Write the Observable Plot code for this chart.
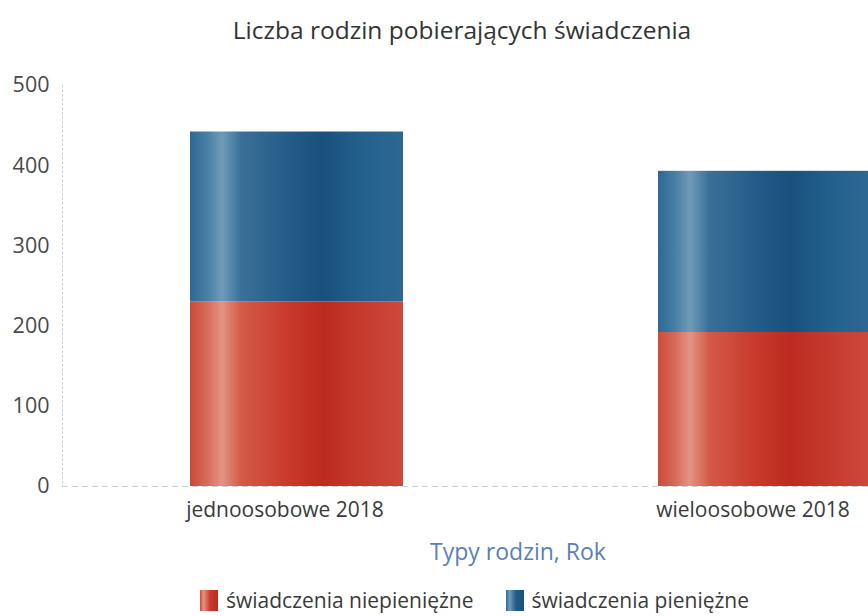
<!DOCTYPE html>
<html>
<head>
<meta charset="utf-8">
<script src="https://cdn.jsdelivr.net/npm/d3@7"></script>
<script src="https://cdn.jsdelivr.net/npm/@observablehq/plot@0.6"></script>
<style>
  html, body { margin: 0; padding: 0; background: #fff; overflow: hidden; width: 868px; height: 616px; }
  body { position: relative; font-family: "Open Sans", sans-serif; }
  #title { position: absolute; top: 13px; left: 0; width: 924px; text-align: center; font-size: 24.5px; color: #333; line-height: 34px; }
  #chart { position: absolute; top: 60px; left: 0; width: 1000px; }
  #chart svg { max-width: none !important; }
  #xlabel { position: absolute; top: 535px; left: 0; width: 1036px; text-align: center; font-size: 23px; line-height: 32px; color: #5b7fb4; }
  #legend { position: absolute; top: 586px; left: 200px; font-size: 21px; line-height: 28px; color: #3a3a3a; display: flex; align-items: center; white-space: nowrap; }
  .sw { display: inline-block; width: 18px; height: 21px; margin-right: 8px; }
  .item { display: flex; align-items: center; margin-right: 32px; }
</style>
</head>
<body>
<div id="title"></div>
<div id="chart"></div>
<div id="xlabel"></div>
<div id="legend"></div>
<script>
const titleText = "Liczba rodzin pobierających świadczenia";
const xAxisLabel = "Typy rodzin, Rok";
const categories = ["jednoosobowe 2018", "wieloosobowe 2018"];
const seriesNames = ["świadczenia niepieniężne", "świadczenia pieniężne"];
const nonCash = [230, 192];
const cash = [212, 201];
const yTicks = [0, 100, 200, 300, 400, 500];
const gradIds = ["gradRed", "gradBlue"];

document.getElementById("title").textContent = titleText;
document.getElementById("xlabel").textContent = xAxisLabel;

const data = [];
categories.forEach((c, i) => {
  data.push({cat: c, series: seriesNames[0], value: nonCash[i]});
  data.push({cat: c, series: seriesNames[1], value: cash[i]});
});

const fillFor = s => `url(#${gradIds[seriesNames.indexOf(s)]})`;

const plot = Plot.plot({
  width: 1000,
  height: 470,
  marginLeft: 62,
  marginRight: 1,
  marginTop: 25,
  marginBottom: 44,
  style: {fontFamily: "Open Sans, sans-serif", fontSize: "21px", color: "#555", background: "transparent", maxWidth: "none"},
  x: {domain: categories, paddingInner: 0.545, paddingOuter: 0.2735, label: null},
  y: {domain: [0, 500], ticks: yTicks, label: null},
  marks: [
    Plot.frame({anchor: "left", stroke: "#ccc", strokeDasharray: "1.5,3"}),
    Plot.barY(data, Plot.stackY({x: "cat", y: "value", z: "series", order: seriesNames, fill: d => fillFor(d.series)})),
    Plot.ruleY([0], {stroke: "#c8cfd8", strokeDasharray: "6,4"}),
    Plot.axisY({ticks: yTicks, tickSize: 0, tickPadding: 13, fill: "#4a4a4a", fontSize: 21.5}),
    Plot.axisX({tickSize: 0, tickPadding: 16, fill: "#3a3a3a", fontSize: 21, dx: -12})
  ]
});
plot.style.maxWidth = "none";

// gradient definitions
const svg = d3.select(plot);
const defs = svg.insert("defs", ":first-child");
function grad(id, stops) {
  const g = defs.append("linearGradient").attr("id", id).attr("x1", "0%").attr("x2", "100%").attr("y1", "0%").attr("y2", "0%");
  stops.forEach(([o, c]) => g.append("stop").attr("offset", o).attr("stop-color", c));
}
grad("gradRed", [["0%", "#cc4a3a"], ["8%", "#d66a5a"], ["15%", "#e39484"], ["24%", "#d45a48"], ["45%", "#c93b2c"], ["62%", "#bd2a1f"], ["80%", "#c53a2d"], ["100%", "#cc4a3c"]]);
grad("gradBlue", [["0%", "#2e6893"], ["8%", "#477fa5"], ["15%", "#6f9bb8"], ["24%", "#3a7098"], ["45%", "#245d89"], ["62%", "#19507c"], ["80%", "#23608c"], ["100%", "#2c6891"]]);

document.getElementById("chart").appendChild(plot);

// legend
const legend = document.getElementById("legend");
seriesNames.forEach((s, i) => {
  const item = document.createElement("span");
  item.className = "item";
  const sw = document.createElement("span");
  sw.className = "sw";
  sw.style.background = i === 0
    ? "linear-gradient(to right, #cc4a3a, #e39484 20%, #c93b2c 55%, #bd2a1f)"
    : "linear-gradient(to right, #2e6893, #6f9bb8 20%, #245d89 55%, #19507c)";
  const t = document.createElement("span");
  t.textContent = s;
  item.appendChild(sw);
  item.appendChild(t);
  legend.appendChild(item);
});
</script>
</body>
</html>
